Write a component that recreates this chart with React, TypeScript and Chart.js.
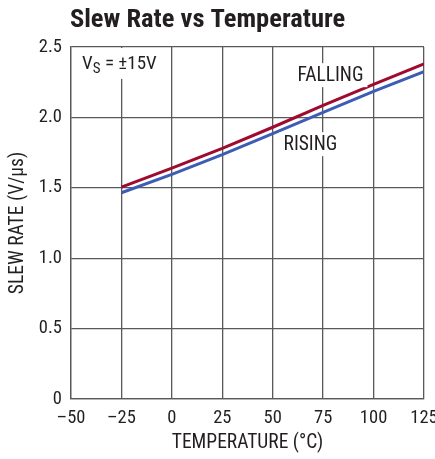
import React, { useEffect, useRef } from "react";
import { Chart, registerables } from "chart.js";

Chart.register(...registerables);

// ---- data ----
const temperatures = [-25, 0, 25, 50, 75, 100, 125];
const fallingRate = [1.505, 1.64, 1.78, 1.93, 2.085, 2.235, 2.38];
const risingRate = [1.465, 1.595, 1.735, 1.885, 2.035, 2.185, 2.325];
const xTickLabels = ["–50", "–25", "0", "25", "50", "75", "100", "125"];
const yTickLabels = ["0", "0.5", "1.0", "1.5", "2.0", "2.5"];
const seriesNames = ["FALLING", "RISING"];
const titleText = "Slew Rate vs Temperature";
const xAxisTitle = "TEMPERATURE (°C)";
const yAxisTitle = "SLEW RATE (V/µs)";

// label anchors in data units
const labelAnchors = [
  { text: seriesNames[0], x: 78.6, y: 2.3 },
  { text: seriesNames[1], x: 68.7, y: 1.81 },
];
const supplyAnchor = { x: -44.5, y: 2.38 };

const FONT = "'Roboto Condensed', 'DejaVu Sans Condensed', sans-serif";
const TEXT = "#231f20";
const GRID = "#595959";
const RED = "#9e0b2f";
const BLUE = "#3d5db5";

const annotationPlugin = {
  id: "annotations",
  afterDatasetsDraw(chart: any) {
    const ctx = chart.ctx;
    const xs = chart.scales.x;
    const ys = chart.scales.y;
    ctx.save();
    // title
    ctx.fillStyle = TEXT;
    ctx.font = `bold 26.5px ${FONT}`;
    ctx.textAlign = "center";
    ctx.textBaseline = "alphabetic";
    ctx.fillText(titleText, 207.5, 27);

    // series labels with white boxes
    ctx.font = `19.5px ${FONT}`;
    ctx.textBaseline = "middle";
    for (const a of labelAnchors) {
      const px = xs.getPixelForValue(a.x);
      const py = ys.getPixelForValue(a.y);
      const w = ctx.measureText(a.text).width;
      ctx.fillStyle = "#ffffff";
      ctx.fillRect(px - w / 2 - 4, py - 12, w + 8, 24);
      ctx.fillStyle = TEXT;
      ctx.fillText(a.text, px, py + 1);
    }

    // V_S = ±15V
    const sx = xs.getPixelForValue(supplyAnchor.x);
    const sy = ys.getPixelForValue(supplyAnchor.y);
    ctx.textAlign = "left";
    ctx.font = `19px ${FONT}`;
    const wV = ctx.measureText("V").width;
    ctx.font = `15px ${FONT}`;
    const wS = ctx.measureText("S").width;
    ctx.font = `19px ${FONT}`;
    const rest = " = ±15V";
    const wR = ctx.measureText(rest).width;
    ctx.fillStyle = "#ffffff";
    ctx.fillRect(sx - 4, chart.chartArea.top + 1, wV + wS + wR + 8, sy - chart.chartArea.top + 14);
    ctx.fillStyle = TEXT;
    ctx.fillText("V", sx, sy);
    ctx.font = `15px ${FONT}`;
    ctx.fillText("S", sx + wV, sy + 5);
    ctx.font = `19px ${FONT}`;
    ctx.fillText(rest, sx + wV + wS, sy);
    ctx.restore();
  },
};

export default function App() {
  const ref = useRef<HTMLCanvasElement | null>(null);
  useEffect(() => {
    document.body.style.margin = "0";
    const canvas = ref.current!;
    const chart = new Chart(canvas, {
      type: "line",
      data: {
        datasets: [
          {
            label: seriesNames[0],
            data: temperatures.map((t, i) => ({ x: t, y: fallingRate[i] })),
            borderColor: RED,
            backgroundColor: RED,
            borderWidth: 3,
            pointRadius: 0,
            tension: 0,
          },
          {
            label: seriesNames[1],
            data: temperatures.map((t, i) => ({ x: t, y: risingRate[i] })),
            borderColor: BLUE,
            backgroundColor: BLUE,
            borderWidth: 3,
            pointRadius: 0,
            tension: 0,
          },
        ],
      },
      options: {
        animation: false,
        responsive: false,
        events: [],
        layout: { padding: { top: 47, right: 11, left: 0, bottom: 0 } },
        plugins: {
          legend: { display: false },
          title: { display: false },
          tooltip: { enabled: false },
        },
        scales: {
          x: {
            type: "linear",
            min: -50,
            max: 125,
            afterFit: (s: any) => {
              s.height = 60;
              s.paddingLeft = 0;
              s.paddingRight = 0;
            },
            ticks: {
              stepSize: 25,
              autoSkip: false,
              maxRotation: 0,
              padding: 8,
              color: TEXT,
              font: { family: FONT, size: 18.5 },
              callback: (_v: any, i: number) => xTickLabels[i],
            },
            grid: { color: GRID, lineWidth: 1.3, drawTicks: false },
            border: { display: true, color: GRID, width: 1.3 },
            title: {
              display: true,
              text: xAxisTitle,
              color: TEXT,
              font: { family: FONT, size: 19.5 },
              padding: { top: 0, bottom: 4 },
            },
          },
          y: {
            type: "linear",
            min: 0,
            max: 2.5,
            afterFit: (s: any) => {
              s.width = 71;
              s.paddingTop = 0;
              s.paddingBottom = 0;
            },
            ticks: {
              stepSize: 0.5,
              autoSkip: false,
              padding: 9,
              color: TEXT,
              font: { family: FONT, size: 18.5 },
              callback: (_v: any, i: number) => yTickLabels[i],
            },
            grid: { color: GRID, lineWidth: 1.3, drawTicks: false },
            border: { display: true, color: GRID, width: 1.3 },
            title: {
              display: true,
              text: yAxisTitle,
              color: TEXT,
              font: { family: FONT, size: 19.5 },
              padding: { top: 6, bottom: 0 },
            },
          },
        },
      },
      plugins: [annotationPlugin],
    } as any);
    return () => chart.destroy();
  }, []);
  return <canvas ref={ref} width={435} height={459} style={{ display: "block" }} />;
}
